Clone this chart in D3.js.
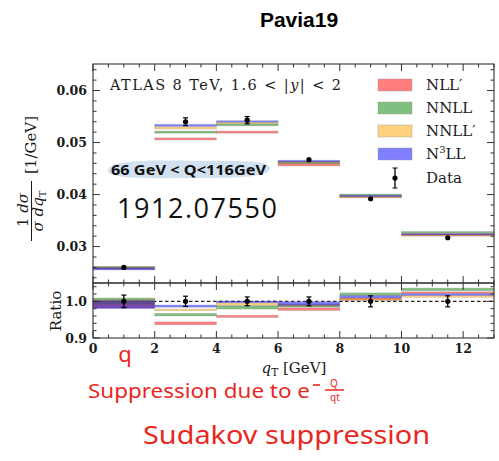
<!DOCTYPE html>
<html><head><meta charset="utf-8">
<script src="https://cdn.jsdelivr.net/npm/d3@7"></script>
<style>
html,body{margin:0;padding:0;background:#fff;}
svg{display:block;}
</style></head>
<body>
<svg id="chart" width="499" height="461"></svg>
<script>
// ---------------- data ----------------
const binLo   = [0, 2, 4, 6, 8, 10];
const binHi   = [2, 4, 6, 8, 10, 13];
const qtData  = [1, 3, 5, 7, 9, 11.5];
const dataVal = [0.0260, 0.0540, 0.0543, 0.0467, 0.0392, 0.0317];
const dataErr = [0.0002, 0.00075, 0.0007, 0.0003, 0.0002, 0.0002];

// main-panel theory bands [lo, hi] per bin
const nllpMain  = [[0.0257,0.0260],[0.0505,0.0509],[0.0518,0.0522],[0.0455,0.0460],[0.0394,0.0397],[0.0321,0.0325]];
const nnllMain  = [[0.0258,0.0262],[0.0518,0.0522],[0.0532,0.0536],[0.0459,0.0463],[0.0398,0.0401],[0.0326,0.0329]];
const nnllpMain = [[0.0257,0.0261],[0.0526,0.0530],[0.0536,0.0539],[0.0460,0.0464],[0.0394,0.0397],[0.0320,0.0324]];
const n3llMain  = [[0.0255,0.0260],[0.0531,0.0535],[0.0539,0.0542],[0.0462,0.0466],[0.0396,0.0399],[0.0322,0.0325]];

// ratio-panel theory bands [lo, hi] per bin
const nllpRatio  = [[0.982,1.000],[0.936,0.944],[0.956,0.962],[0.975,0.982],[1.003,1.009],[1.021,1.026]];
const nnllRatio  = [[0.992,1.009],[0.960,0.967],[0.979,0.988],[0.984,0.991],[1.016,1.023],[1.029,1.036]];
const nnllpRatio = [[0.985,1.005],[0.975,0.979],[0.989,0.996],[0.986,0.993],[1.003,1.008],[1.011,1.016]];
const n3llRatio  = [[0.980,1.003],[0.984,0.990],[0.996,1.001],[0.988,0.999],[1.009,1.016],[1.016,1.021]];
const ratioErr   = [0.017, 0.014, 0.012, 0.012, 0.015, 0.015];

const seriesNames = ["NLL′", "NNLL", "NNLL′", "N3LL"];
const seriesColors = ["#ff0000", "#008000", "#ffa500", "#0000ff"];

const xTicks = [0, 2, 4, 6, 8, 10, 12];
const yMainTicks = [0.03, 0.04, 0.05, 0.06];
const yRatioTicks = [0.9, 1.0];

// ---------------- layout ----------------
const svg = d3.select("#chart");
const L = 93, R = 494, T = 64, MB = 283, RB = 338;
const x = d3.scaleLinear().domain([0, 13]).range([L, R]);
const yM = d3.scaleLinear().domain([0.0230, 0.0651]).range([MB, T]);
const yR = d3.scaleLinear().domain([0.9, 1.05]).range([RB, MB]);
const serif = "'DejaVu Serif', 'Liberation Serif', serif";
const frameCol = "#333";
const txtCol = "#1a1a1a";

// title
svg.append("text").attr("x", 299).attr("y", 27).attr("text-anchor", "middle")
  .attr("font-family", "'Liberation Sans', Arial, sans-serif").attr("font-weight", "bold")
  .attr("font-size", 21).text("Pavia19");

function drawBands(yScale, bandsList) {
  bandsList.forEach((bands, si) => {
    const g = svg.append("g");
    g.selectAll("rect").data(bands).join("rect")
      .attr("x", (d, i) => x(binLo[i]))
      .attr("width", (d, i) => x(binHi[i]) - x(binLo[i]))
      .attr("y", d => yScale(d[1]))
      .attr("height", d => Math.max(1.5, yScale(d[0]) - yScale(d[1])))
      .attr("fill", seriesColors[si]).attr("fill-opacity", 0.5)
      .attr("stroke", "#888").attr("stroke-opacity", 0.35).attr("stroke-width", 0.8);
  });
}

drawBands(yM, [nllpMain, nnllMain, nnllpMain, n3llMain]);

// ratio dashed line
svg.append("line").attr("x1", x(0)).attr("x2", x(13)).attr("y1", yR(1)).attr("y2", yR(1))
  .attr("stroke", "#222").attr("stroke-width", 1.2).attr("stroke-dasharray", "3.5,2.5");

drawBands(yR, [nllpRatio, nnllRatio, nnllpRatio, n3llRatio]);

function drawData(yScale, vals, errs) {
  const g = svg.append("g");
  vals.forEach((v, i) => {
    const cx = x(qtData[i]);
    const y1 = yScale(v - errs[i]), y2 = yScale(v + errs[i]);
    g.append("line").attr("x1", cx).attr("x2", cx).attr("y1", y1).attr("y2", y2).attr("stroke", "#000").attr("stroke-width", 1.3);
    if (y1 - y2 > 4) {
      g.append("line").attr("x1", cx - 2.5).attr("x2", cx + 2.5).attr("y1", y1).attr("y2", y1).attr("stroke", "#000").attr("stroke-width", 1.2);
      g.append("line").attr("x1", cx - 2.5).attr("x2", cx + 2.5).attr("y1", y2).attr("y2", y2).attr("stroke", "#000").attr("stroke-width", 1.2);
    }
    g.append("circle").attr("cx", cx).attr("cy", yScale(v)).attr("r", 2.6).attr("fill", "#000");
  });
}
drawData(yM, dataVal, dataErr);
drawData(yR, dataVal.map(() => 1), ratioErr);

// ---------------- axes / frames ----------------
function frame(y0, y1) {
  svg.append("rect").attr("x", L).attr("y", y0).attr("width", R - L).attr("height", y1 - y0)
    .attr("fill", "none").attr("stroke", frameCol).attr("stroke-width", 1.1);
}
frame(T, MB);
frame(MB, RB);

const xMinor = d3.range(0, 13.01, 0.5).filter(v => v % 2 !== 0);
function xTickRow(yPos, dir) {
  const g = svg.append("g").attr("stroke", frameCol).attr("stroke-width", 1);
  xTicks.forEach(v => g.append("line").attr("x1", x(v)).attr("x2", x(v)).attr("y1", yPos).attr("y2", yPos + dir * 7));
  xMinor.forEach(v => g.append("line").attr("x1", x(v)).attr("x2", x(v)).attr("y1", yPos).attr("y2", yPos + dir * 3.5));
}
xTickRow(T, 1);
xTickRow(MB, -1);
xTickRow(MB, 1);
xTickRow(RB, -1);

function yTickCol(scale, major, minorStep, lo, hi) {
  const g = svg.append("g").attr("stroke", frameCol).attr("stroke-width", 1);
  const minors = d3.range(Math.ceil(lo / minorStep - 1e-6), Math.floor(hi / minorStep + 1e-6) + 1).map(k => k * minorStep);
  minors.forEach(v => {
    const isMaj = major.some(m => Math.abs(m - v) < 1e-9);
    const len = isMaj ? 7 : 3.5;
    g.append("line").attr("x1", L).attr("x2", L + len).attr("y1", scale(v)).attr("y2", scale(v));
    g.append("line").attr("x1", R).attr("x2", R - len).attr("y1", scale(v)).attr("y2", scale(v));
  });
}
yTickCol(yM, yMainTicks, 0.002, 0.0232, 0.065);
yTickCol(yR, yRatioTicks, 0.02, 0.9, 1.05);

const tickSize = 12.5;
svg.append("g").selectAll("text").data(yMainTicks).join("text")
  .attr("x", L - 6).attr("y", d => yM(d) + 4.5).attr("text-anchor", "end")
  .attr("font-family", serif).attr("font-size", tickSize).attr("font-weight", "bold")
  .attr("fill", txtCol).text(d => d.toFixed(2));
svg.append("g").selectAll("text").data(yRatioTicks).join("text")
  .attr("x", L - 6).attr("y", d => yR(d) + 4.5).attr("text-anchor", "end")
  .attr("font-family", serif).attr("font-size", tickSize).attr("font-weight", "bold")
  .attr("fill", txtCol).text(d => d.toFixed(1));
svg.append("g").selectAll("text").data(xTicks).join("text")
  .attr("x", d => x(d)).attr("y", 353).attr("text-anchor", "middle")
  .attr("font-family", serif).attr("font-size", tickSize).attr("font-weight", "bold")
  .attr("fill", txtCol).text(d => d);

// x label
const xl = svg.append("text").attr("x", 294).attr("y", 373).attr("text-anchor", "middle")
  .attr("font-family", serif).attr("font-size", 15).attr("fill", txtCol);
xl.append("tspan").attr("font-style", "italic").text("q");
xl.append("tspan").attr("font-size", 10.5).attr("dy", 3).text("T");
xl.append("tspan").attr("dy", -3).text(" [GeV]");

// y label (main)
const yl = svg.append("g").attr("transform", "translate(31,183) rotate(-90)")
  .attr("font-family", serif).attr("fill", txtCol);
yl.append("text").attr("x", -27).attr("y", -3).attr("text-anchor", "middle").attr("font-size", 15)
  .html('1 <tspan font-style="italic">dσ</tspan>');
yl.append("line").attr("x1", -58).attr("x2", 2).attr("y1", 0.5).attr("y2", 0.5).attr("stroke", txtCol).attr("stroke-width", 1);
const den = yl.append("text").attr("x", -28).attr("y", 12).attr("text-anchor", "middle").attr("font-size", 15);
den.append("tspan").attr("font-style", "italic").text("σ dq");
den.append("tspan").attr("font-size", 10).attr("dy", 3).text("T");
yl.append("text").attr("x", 38).attr("y", 5).attr("text-anchor", "middle").attr("font-size", 15).text("[1/GeV]");

// ratio label
svg.append("text").attr("transform", "translate(61,311) rotate(-90)").attr("text-anchor", "middle")
  .attr("font-family", serif).attr("font-size", 15).attr("fill", txtCol).text("Ratio");

// in-plot label
const lab = svg.append("text").attr("x", 110).attr("y", 90).attr("font-family", serif)
  .attr("font-size", 14.5).attr("fill", txtCol).attr("textLength", 231);
lab.append("tspan").text("ATLAS 8 TeV, 1.6 < |");
lab.append("tspan").attr("font-style", "italic").text("y");
lab.append("tspan").text("| < 2");

// legend
const lg = svg.append("g");
seriesNames.forEach((n, i) => {
  const yy = 79 + i * 23;
  lg.append("rect").attr("x", 378).attr("y", yy).attr("width", 34).attr("height", 12)
    .attr("fill", seriesColors[i]).attr("fill-opacity", 0.5).attr("stroke", "#999").attr("stroke-width", 0.8).attr("stroke-opacity", 0.5);
  const t = lg.append("text").attr("x", 426).attr("y", yy + 11).attr("font-family", serif)
    .attr("font-size", 15).attr("fill", txtCol);
  if (n === "N3LL") {
    t.append("tspan").text("N");
    t.append("tspan").attr("font-size", 10).attr("dy", -6).text("3");
    t.append("tspan").attr("dy", 6).text("LL");
  } else t.text(n);
});
{
  const cx = 395, cy = 178;
  lg.append("line").attr("x1", cx).attr("x2", cx).attr("y1", 168).attr("y2", 188).attr("stroke", "#000").attr("stroke-width", 1.3);
  lg.append("line").attr("x1", cx - 2.5).attr("x2", cx + 2.5).attr("y1", 168).attr("y2", 168).attr("stroke", "#000");
  lg.append("line").attr("x1", cx - 2.5).attr("x2", cx + 2.5).attr("y1", 188).attr("y2", 188).attr("stroke", "#000");
  lg.append("circle").attr("cx", cx).attr("cy", cy).attr("r", 2.6).attr("fill", "#000");
  lg.append("text").attr("x", 426).attr("y", 183).attr("font-family", serif).attr("font-size", 15)
    .attr("fill", txtCol).text("Data");
}

// ---------------- annotations ----------------
svg.append("path").attr("d", "M108,170 C110,160 150,160 200,161 C240,161 268,160 270,168 C271,177 240,178 200,178 C150,178 106,180 108,170 Z")
  .attr("fill", "#c9dcec").attr("opacity", 0.85);
svg.append("text").attr("x", 111).attr("y", 175).attr("font-family", "'Noto Sans', sans-serif")
  .attr("font-weight", "bold").attr("font-size", 14).attr("fill", "#111").attr("textLength", 155)
  .attr("lengthAdjust", "spacingAndGlyphs").text("66 GeV < Q<116GeV");
svg.append("text").attr("x", 117).attr("y", 218).attr("font-family", "'Open Sans', sans-serif")
  .attr("font-size", 27).attr("fill", "#111").attr("textLength", 160).text("1912.07550");

const red = "#e8281e";
const hand = "'Noto Sans', sans-serif";
svg.append("text").attr("x", 125).attr("y", 362).attr("text-anchor", "middle").attr("font-family", hand)
  .attr("font-size", 22).attr("fill", red).text("q");
svg.append("text").attr("x", 88).attr("y", 398).attr("font-family", hand).attr("font-size", 19)
  .attr("fill", red).attr("textLength", 222).attr("lengthAdjust", "spacingAndGlyphs").text("Suppression due to e");
svg.append("line").attr("x1", 313).attr("x2", 320).attr("y1", 385).attr("y2", 385).attr("stroke", red).attr("stroke-width", 1.6);
svg.append("text").attr("x", 334).attr("y", 387).attr("text-anchor", "middle").attr("font-family", hand).attr("font-size", 10).attr("fill", red).text("Q");
svg.append("line").attr("x1", 325).attr("x2", 344).attr("y1", 390).attr("y2", 390).attr("stroke", red).attr("stroke-width", 1.5);
svg.append("text").attr("x", 335).attr("y", 401).attr("text-anchor", "middle").attr("font-family", hand).attr("font-size", 10).attr("fill", red).text("qt");
svg.append("text").attr("x", 143).attr("y", 444).attr("font-family", hand).attr("font-size", 26)
  .attr("fill", red).attr("textLength", 287).attr("lengthAdjust", "spacingAndGlyphs").text("Sudakov suppression");
</script>
</body></html>
